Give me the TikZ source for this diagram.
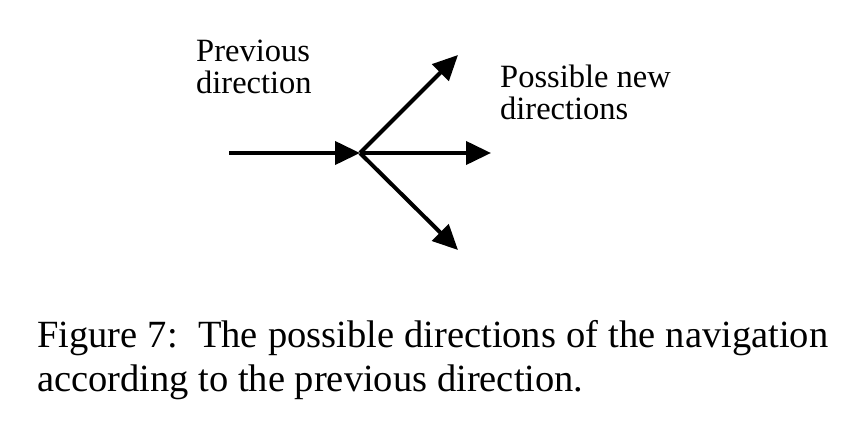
\documentclass[tikz,border=0pt]{standalone}
\usepackage{fontspec}
\setmainfont{Liberation Serif}
\usetikzlibrary{arrows.meta}
\tikzset{
  dirarrow/.style={line width=4pt,-{Triangle[length=25pt,width=23pt]}},
  lbl/.style={anchor=north west,inner sep=0pt,align=left,font=\fontsize{32.5}{31.5}\selectfont},
  captext/.style={anchor=north west,inner sep=0pt,align=left,font=\fontsize{38.5}{43.3}\selectfont}
}
\begin{document}
\begin{tikzpicture}[x=1pt,y=-1pt]
\useasboundingbox[fill=white] (0,0) rectangle (860,436);
\coordinate (s) at (229,153);
\coordinate (c) at (360,153);
\coordinate (ur) at (458,55);
\coordinate (r) at (491,153);
\coordinate (dr) at (458,250);
\draw[dirarrow] (s) -- (c);
\draw[dirarrow] (c) -- (ur);
\draw[dirarrow] (c) -- (r);
\draw[dirarrow] (c) -- (dr);
\node[lbl] (prev) at (196,40) {Previous\\direction};
\node[lbl] (new) at (500,65) {Possible new\\directions};
\node[captext] (caption) at (37,320.5) {\makebox[791pt][s]{Figure 7:\ \ The possible directions of the navigation}\\according to the previous direction.};
\end{tikzpicture}
\end{document}
